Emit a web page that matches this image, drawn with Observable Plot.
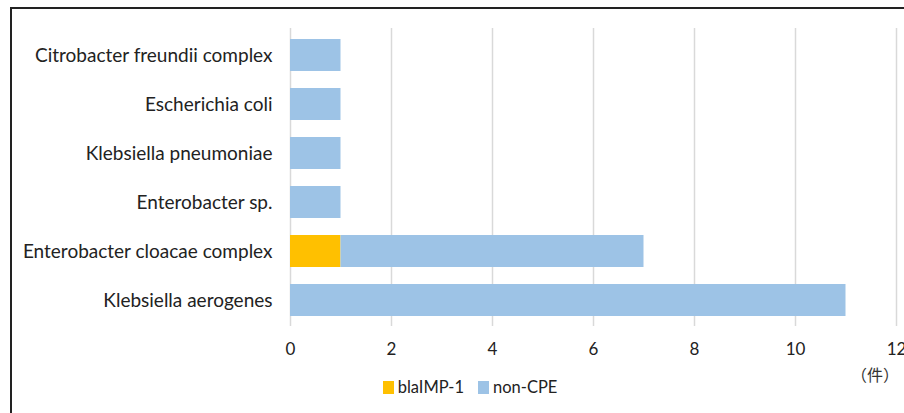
<!DOCTYPE html>
<html>
<head>
<meta charset="utf-8">
<script src="https://cdn.jsdelivr.net/npm/d3@7"></script>
<script src="https://cdn.jsdelivr.net/npm/@observablehq/plot@0.6"></script>
<style>
  html, body { margin: 0; padding: 0; background: #fff; }
  body { width: 904px; height: 413px; position: relative; overflow: hidden; font-family: Lato, "Noto Sans", sans-serif; }
  #frame { position: absolute; left: 10px; top: 7px; width: 900px; height: 420px; border: 2px solid #222; box-sizing: border-box; }
  #chart { position: absolute; left: 0; top: 0; }
  #legend { position: absolute; top: 377px; left: 0; width: 940px; text-align: center; font-size: 16.5px; color: #222; }
  #legend span.item { display: inline-flex; align-items: center; margin: 0 7px; }
  #legend span.sw { display: inline-block; width: 11px; height: 13px; margin-right: 4px; }
  #unit { position: absolute; left: 851px; top: 362px; font-size: 16px; color: #333; font-family: "Noto Sans CJK JP", sans-serif; }
</style>
</head>
<body>
<div id="frame"></div>
<div id="chart"></div>
<div id="legend"></div>
<div id="unit">（件）</div>
<script>
const categories = [
  "Citrobacter freundii complex",
  "Escherichia coli",
  "Klebsiella pneumoniae",
  "Enterobacter sp.",
  "Enterobacter cloacae complex",
  "Klebsiella aerogenes"
];
const seriesNames = ["blaIMP-1", "non-CPE"];
const blaIMP1 = [0, 0, 0, 0, 1, 0];
const nonCPE = [1, 1, 1, 1, 6, 11];
const xTicks = [0, 2, 4, 6, 8, 10, 12];
const colors = ["#FFC000", "#9DC3E6"];

const rows = [];
categories.forEach((c, i) => {
  rows.push({category: c, series: seriesNames[0], value: blaIMP1[i]});
  rows.push({category: c, series: seriesNames[1], value: nonCPE[i]});
});

const plot = Plot.plot({
  width: 904,
  height: 413,
  marginLeft: 290,
  marginRight: 8,
  marginTop: 28,
  marginBottom: 87,
  style: {fontFamily: "Lato, 'Noto Sans', sans-serif", fontSize: "16px", color: "#222", background: "transparent"},
  x: {domain: [0, 12], ticks: xTicks, label: null},
  y: {domain: categories, paddingInner: 0.355, paddingOuter: 0.1775, label: null},
  color: {domain: seriesNames, range: colors},
  marks: [
    Plot.ruleX(xTicks, {stroke: "#d9d9d9", strokeWidth: 1.5}),
    Plot.barX(rows, Plot.stackX({x: "value", y: "category", fill: "series", order: seriesNames})),
    Plot.axisX({ticks: xTicks, tickSize: 0, tickPadding: 16, fontSize: 17, fill: "#222", label: null}),
    Plot.axisY({tickSize: 0, tickPadding: 18, fontSize: 19, fill: "#222", label: null})
  ]
});
document.getElementById("chart").appendChild(plot);

const legend = document.getElementById("legend");
seriesNames.forEach((s, i) => {
  const item = document.createElement("span");
  item.className = "item";
  const sw = document.createElement("span");
  sw.className = "sw";
  sw.style.background = colors[i];
  item.appendChild(sw);
  item.appendChild(document.createTextNode(s));
  legend.appendChild(item);
});
</script>
</body>
</html>
